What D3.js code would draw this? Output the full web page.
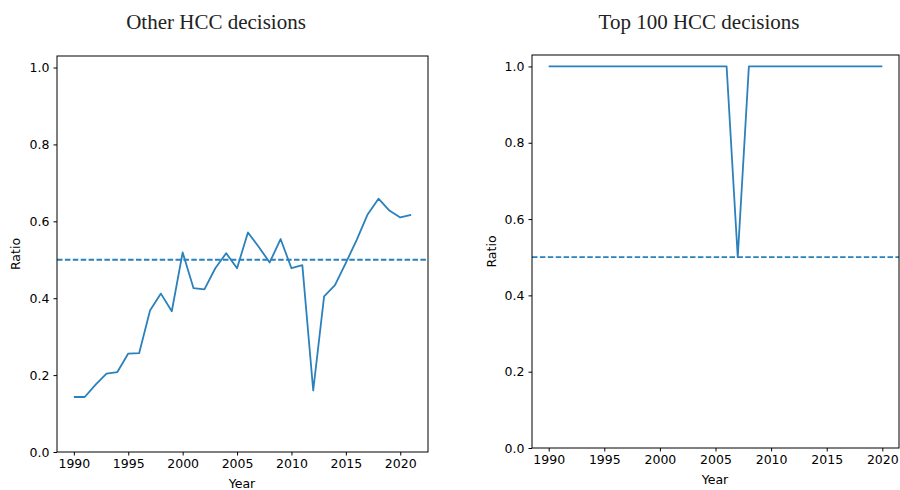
<!DOCTYPE html>
<html>
<head>
<meta charset="utf-8">
<script src="https://cdn.jsdelivr.net/npm/d3@7"></script>
<style>
  body { margin: 0; background: #fff; }
  svg { display: block; }
  .tick text { font-family: "DejaVu Sans", sans-serif; font-size: 12.5px; fill: #000; }
  .domain, .tick line { stroke: #000; }
</style>
</head>
<body>
<svg id="chart" width="900" height="490"></svg>
<script>
const years = d3.range(1990, 2022);
const otherRatio = [0.143, 0.143, 0.175, 0.204, 0.208, 0.256, 0.257, 0.368, 0.412, 0.366,
                    0.519, 0.426, 0.423, 0.478, 0.517, 0.478, 0.571, 0.533, 0.493, 0.554,
                    0.478, 0.486, 0.160, 0.405, 0.434, 0.492, 0.552, 0.618, 0.659, 0.628,
                    0.610, 0.617];
const topYears = d3.range(1990, 2021);
const topRatio = [1, 1, 1, 1, 1, 1, 1, 1, 1, 1, 1, 1, 1, 1, 1, 1, 1, 0.5, 1, 1,
                  1, 1, 1, 1, 1, 1, 1, 1, 1, 1, 1];
const yTicks = [0, 0.2, 0.4, 0.6, 0.8, 1.0];
const xTicks = [1990, 1995, 2000, 2005, 2010, 2015, 2020];
const threshold = 0.5;

const svg = d3.select("#chart");
const lineColor = "#2a81bc";

function drawPanel(p) {
  const x = d3.scaleLinear().domain(p.xDomain).range([p.left, p.right]);
  const y = d3.scaleLinear().domain([0, 1.03]).range([p.bottom, p.top]);

  const g = svg.append("g");

  // dashed 0.5 reference line across the whole axes
  g.append("line")
   .attr("x1", p.left).attr("x2", p.right)
   .attr("y1", y(threshold)).attr("y2", y(threshold))
   .attr("stroke", lineColor)
   .attr("stroke-width", 1.8)
   .attr("stroke-dasharray", "5.5,2.4");

  const line = d3.line()
                 .x((d, i) => x(p.years[i]))
                 .y(d => y(d));

  g.append("path")
   .datum(p.values)
   .attr("d", line)
   .attr("fill", "none")
   .attr("stroke", lineColor)
   .attr("stroke-width", 1.8)
   .attr("stroke-linejoin", "round");

  g.append("rect")
   .attr("x", p.left).attr("y", p.top)
   .attr("width", p.right - p.left).attr("height", p.bottom - p.top)
   .attr("fill", "none")
   .attr("stroke", "#000")
   .attr("stroke-width", 1);

  g.append("g")
   .attr("transform", `translate(0,${p.bottom})`)
   .call(d3.axisBottom(x).tickValues(xTicks).tickFormat(d3.format("d"))
           .tickSizeInner(3.5).tickSizeOuter(0).tickPadding(3.5))
   .call(a => a.select(".domain").remove());

  g.append("g")
   .attr("transform", `translate(${p.left},0)`)
   .call(d3.axisLeft(y).tickValues(yTicks).tickFormat(d3.format(".1f"))
           .tickSizeInner(3.5).tickSizeOuter(0).tickPadding(4))
   .call(a => a.select(".domain").remove());

  g.append("text")
   .attr("x", p.xLabelX).attr("y", p.xLabelY)
   .attr("text-anchor", "middle")
   .attr("font-family", "DejaVu Sans, sans-serif")
   .attr("font-size", 12.5)
   .text("Year");

  g.append("text")
   .attr("transform", `translate(${p.yLabelX},${(p.top + p.bottom) / 2}) rotate(-90)`)
   .attr("text-anchor", "middle")
   .attr("font-family", "DejaVu Sans, sans-serif")
   .attr("font-size", 12.5)
   .text("Ratio");

  svg.append("text")
   .attr("x", p.titleX).attr("y", 29)
   .attr("text-anchor", "middle")
   .attr("font-family", "Liberation Serif, serif")
   .attr("font-size", 21)
   .attr("fill", "#222")
   .text(p.title);
}

drawPanel({
  title: "Other HCC decisions", titleX: 216,
  years: years, values: otherRatio,
  xDomain: [1988.45, 2022.55],
  left: 57, right: 428, top: 56, bottom: 452,
  xLabelX: 242, xLabelY: 488, yLabelX: 20
});

drawPanel({
  title: "Top 100 HCC decisions", titleX: 699,
  years: topYears, values: topRatio,
  xDomain: [1988.5, 2021.5],
  left: 532, right: 899, top: 55, bottom: 448,
  xLabelX: 715, xLabelY: 484, yLabelX: 496
});
</script>
</body>
</html>
